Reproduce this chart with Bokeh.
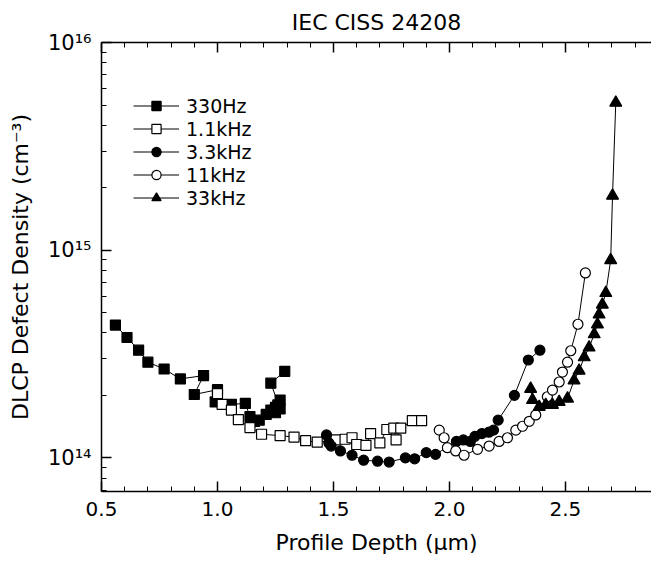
from bokeh.plotting import figure
from bokeh.models import (LinearAxis, LogTicker, SingleIntervalTicker,
                          Legend, LegendItem, Range1d)
from bokeh.embed import file_html
from bokeh.resources import INLINE

# ---------------- data ----------------
title_text = "IEC CISS 24208"
x_label = "Profile Depth (\u03bcm)"
y_label = "DLCP Defect Density (cm\u207b\u00b3)"

x_ticks = [0.5, 1.0, 1.5, 2.0, 2.5]
x_tick_labels = ["0.5", "1.0", "1.5", "2.0", "2.5"]
y_ticks = [1e14, 1e15, 1e16]
y_tick_labels = ["10\u00b9\u2074", "10\u00b9\u2075", "10\u00b9\u2076"]

series_names = ["330Hz", "1.1kHz", "3.3kHz", "11kHz", "33kHz"]

x_330 = [0.56, 0.61, 0.66, 0.70, 0.77, 0.84, 0.94, 0.90, 1.00, 0.99, 1.06, 1.12,
         1.14, 1.16, 1.18, 1.21, 1.23, 1.25, 1.26, 1.27, 1.25, 1.27, 1.23, 1.29]
y_330 = [4.36e14, 3.80e14, 3.30e14, 2.89e14, 2.68e14, 2.40e14, 2.49e14, 2.02e14,
         2.13e14, 1.86e14, 1.81e14, 1.83e14, 1.58e14, 1.50e14, 1.52e14, 1.62e14,
         1.70e14, 1.75e14, 1.80e14, 1.90e14, 1.65e14, 1.72e14, 2.29e14, 2.61e14]

x_1k1 = [1.00, 1.02, 1.06, 1.09, 1.14, 1.19, 1.27, 1.33, 1.38, 1.43, 1.51, 1.55,
         1.58, 1.60, 1.64, 1.66, 1.70, 1.73, 1.76, 1.77, 1.79, 1.84, 1.88]
y_1k1 = [2.04e14, 1.81e14, 1.70e14, 1.53e14, 1.40e14, 1.30e14, 1.28e14, 1.26e14,
         1.21e14, 1.19e14, 1.22e14, 1.23e14, 1.25e14, 1.16e14, 1.15e14, 1.31e14,
         1.18e14, 1.37e14, 1.39e14, 1.22e14, 1.39e14, 1.51e14, 1.51e14]

x_3k3 = [1.47, 1.48, 1.49, 1.53, 1.58, 1.63, 1.69, 1.74, 1.81, 1.85, 1.90, 1.94,
         2.03, 2.06, 2.09, 2.11, 2.14, 2.17, 2.19, 2.21, 2.28, 2.34, 2.39]
y_3k3 = [1.29e14, 1.18e14, 1.14e14, 1.08e14, 1.03e14, 0.975e14, 0.964e14, 0.955e14,
         1.00e14, 0.99e14, 1.06e14, 1.04e14, 1.20e14, 1.22e14, 1.20e14, 1.27e14,
         1.31e14, 1.33e14, 1.36e14, 1.52e14, 2.00e14, 2.96e14, 3.30e14]

x_11k = [1.956, 1.977, 1.991, 2.027, 2.063, 2.121, 2.171, 2.214, 2.250, 2.286, 2.315,
         2.344, 2.372, 2.422, 2.444, 2.473, 2.487, 2.509, 2.523, 2.554, 2.586]
y_11k = [1.36e14, 1.25e14, 1.12e14, 1.08e14, 1.03e14, 1.10e14, 1.14e14, 1.20e14,
         1.25e14, 1.36e14, 1.42e14, 1.50e14, 1.61e14, 1.97e14, 2.12e14, 2.32e14,
         2.59e14, 2.89e14, 3.28e14, 4.40e14, 7.77e14]

x_33k = [2.350, 2.358, 2.387, 2.415, 2.444, 2.473, 2.509, 2.537, 2.559, 2.581, 2.602,
         2.624, 2.638, 2.645, 2.659, 2.674, 2.695, 2.703, 2.717]
y_33k = [2.15e14, 1.90e14, 1.76e14, 1.80e14, 1.80e14, 1.86e14, 1.93e14, 2.36e14,
         2.63e14, 3.05e14, 3.40e14, 3.94e14, 4.39e14, 4.90e14, 5.47e14, 6.22e14,
         8.96e14, 1.83e15, 5.13e15]

x_start, x_end = 0.5, 2.871
y_start, y_end = 6.89e13, 1e16

# ---------------- figure ----------------
FONT = "DejaVu Sans"
p = figure(width=651, height=563, output_backend="svg", toolbar_location=None,
           y_axis_type="log", x_axis_type=None,
           x_range=Range1d(x_start, x_end), y_range=Range1d(y_start, y_end),
           min_border_left=101, min_border_right=0, min_border_top=37,
           min_border_bottom=72)
p.outline_line_color = None
p.grid.visible = False
p.background_fill_color = "white"

p.title.text = title_text
p.title.align = "center"
p.title.text_font = FONT
p.title.text_font_size = "22px"
p.title.text_font_style = "normal"
p.title.text_color = "black"
p.title.standoff = 15

xticker = SingleIntervalTicker(interval=0.5, num_minor_ticks=5)
xb = LinearAxis(ticker=xticker)
xb.major_label_overrides = {t: l for t, l in zip(x_ticks, x_tick_labels)}
xt = LinearAxis(ticker=xticker)
for ax in (xb, xt):
    ax.major_tick_in = 10
    ax.major_tick_out = 0
    ax.minor_tick_in = 5
    ax.minor_tick_out = 0
    ax.axis_line_width = 1.5
    ax.major_tick_line_width = 1.5
    ax.major_label_text_font = FONT
    ax.major_label_text_font_size = "20px"
    ax.major_label_text_color = "black"
xb.major_label_standoff = 10
xb.axis_label = x_label
xb.axis_label_text_font = FONT
xb.axis_label_text_font_size = "22px"
xb.axis_label_text_font_style = "normal"
xb.axis_label_text_color = "black"
xb.axis_label_standoff = 11
xt.major_label_overrides = {t: "" for t in x_ticks}
xt.major_label_standoff = 0
p.add_layout(xb, "below")
p.add_layout(xt, "above")

ya = p.yaxis[0]
ya.ticker = LogTicker(num_minor_ticks=10)
ya.major_tick_in = 10
ya.major_tick_out = 0
ya.minor_tick_in = 5
ya.minor_tick_out = 0
ya.axis_line_width = 1.5
ya.major_tick_line_width = 1.5
ya.major_label_overrides = {t: l for t, l in zip(y_ticks, y_tick_labels)}
ya.major_label_text_font = FONT
ya.major_label_text_font_size = "21px"
ya.major_label_text_color = "black"
ya.major_label_standoff = 10
ya.axis_label = y_label
ya.axis_label_text_font = FONT
ya.axis_label_text_font_size = "22px"
ya.axis_label_text_font_style = "normal"
ya.axis_label_text_color = "black"
ya.axis_label_standoff = 12

styles = [
    (x_330, y_330, "square", "black", 10),
    (x_1k1, y_1k1, "square", "white", 10),
    (x_3k3, y_3k3, "circle", "black", 10),
    (x_11k, y_11k, "circle", "white", 10),
    (x_33k, y_33k, "triangle", "black", 12),
]

items = []
for name, (xs, ys, marker, fill, size) in zip(series_names, styles):
    lr = p.line(xs, ys, line_color="black", line_width=1)
    sr = p.scatter(xs, ys, marker=marker, size=size, fill_color=fill,
                   line_color="black", line_width=1.2)
    items.append(LegendItem(label=name, renderers=[lr, sr]))

legend = Legend(items=items, location=(32, 282), border_line_color=None,
                background_fill_alpha=0, glyph_width=46, glyph_height=23,
                label_height=23, spacing=0, padding=0, margin=0,
                label_standoff=7, label_text_font=FONT,
                label_text_font_size="19px", label_text_color="black")
p.add_layout(legend, "center")

open("out.html", "w").write(file_html(p, INLINE))
